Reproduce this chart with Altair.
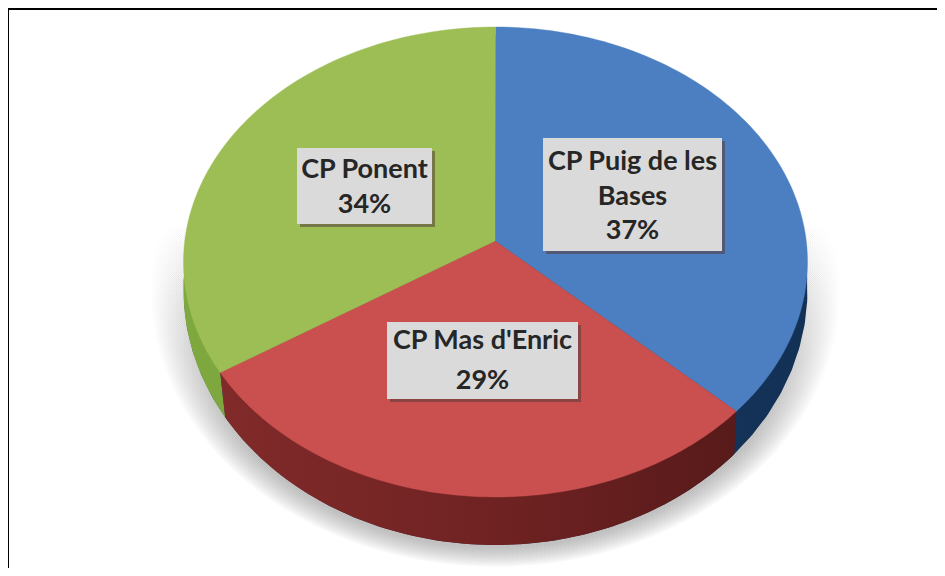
import math
import altair as alt

# ---- values ----
labels = ["CP Puig de les Bases", "CP Mas d'Enric", "CP Ponent"]
shares = [37, 29, 34]
label_lines = [["CP Puig de les", "Bases", "37%"], ["CP Mas d'Enric", "29%"], ["CP Ponent", "34%"]]
face_colors = ["#4b7fc1", "#c9504e", "#9cbe55"]
wall_stops = [
    ["#1f4674", "#173a63", "#133055"],
    ["#812a2a", "#6f2222", "#581a1a"],
    ["#7fa83f", "#7aa23c", "#6f9636"],
]

# ---- layout (page pixels, the chart origin sits at 8,8) ----
OX, OY = 8, 8
CX, FACE_CY, RX, FACE_RY = 495.5, 262.0, 312.0, 235.0
APEX = (495.0, 241.0)
WALL_CY, WALL_RY = 290.0, 255.0


def px(x, y):
    return [round(x - OX, 2), round(y - OY, 2)]


def ray_point(turn):
    """Where a ray from the apex meets the rim; turn is the running share in degrees from 12 o'clock."""
    t = math.radians(turn)
    dx, dy = math.sin(t), -math.cos(t)
    py = (APEX[1] - FACE_CY) / FACE_RY
    b = py * dy
    s = -b + math.sqrt(b * b - (py * py - 1))
    return CX + RX * s * dx, FACE_CY + FACE_RY * (py + s * dy)


def rim_angle(x, y, cy, ry):
    return math.atan2((x - CX) / RX, -(y - cy) / ry)


def arc(a0, a1, cy, ry, n=90):
    return [(CX + RX * math.sin(a0 + (a1 - a0) * i / n), cy - ry * math.cos(a0 + (a1 - a0) * i / n)) for i in range(n + 1)]


def feature(name, pts):
    ring = [px(*p) for p in pts]
    ring.append(ring[0])
    return {"type": "Feature", "geometry": {"type": "Polygon", "coordinates": [ring]}, "properties": {"name": name}}


# running boundaries taken from the shares
total = sum(shares)
bounds = [0.0]
for v in shares:
    bounds.append(bounds[-1] + 360.0 * v / total)

faces, walls = [], []
for i, name in enumerate(labels):
    p0, p1 = ray_point(bounds[i]), ray_point(bounds[i + 1])
    a0 = rim_angle(*p0, FACE_CY, FACE_RY)
    a1 = rim_angle(*p1, FACE_CY, FACE_RY)
    if a0 < 0:
        a0 += 2 * math.pi
    if a1 <= a0:
        a1 += 2 * math.pi
    faces.append(feature(name, [APEX] + arc(a0, a1, FACE_CY, FACE_RY)))
    # side wall: hangs under the rim, its seams drop straight down
    w0x = p0[0] - 2 if p0[0] > CX else p0[0] + 5
    w1x = p1[0] - 2 if p1[0] > CX else p1[0] + 5
    w0 = (w0x, WALL_CY + WALL_RY * math.sqrt(max(0, 1 - ((w0x - CX) / RX) ** 2)))
    w1 = (w1x, WALL_CY + WALL_RY * math.sqrt(max(0, 1 - ((w1x - CX) / RX) ** 2)))
    b0 = rim_angle(*w0, WALL_CY, WALL_RY)
    b1 = rim_angle(*w1, WALL_CY, WALL_RY)
    if b0 < 0:
        b0 += 2 * math.pi
    if b1 <= b0:
        b1 += 2 * math.pi
    if i == 0:  # blue starts at 12 o'clock: only its lower right shows
        walls.append(feature(name, [APEX] + arc(0.0, b1, WALL_CY, WALL_RY) + [p1]))
    elif i == 2:
        walls.append(feature(name, [APEX, p0] + arc(b0, 2 * math.pi, WALL_CY, WALL_RY)))
    else:
        walls.append(feature(name, [APEX, p0] + arc(b0, b1, WALL_CY, WALL_RY) + [p1]))

projection = dict(type="identity", scale=1, translate=[0, 0])

# soft shadow made of stacked ellipses
shadow_feats = []
for k in range(14):
    grow = 2 + k * 2.3
    pts = [(CX + (RX + grow) * math.sin(a), WALL_CY + 2 + (WALL_RY + grow * 0.62) * -math.cos(a))
           for a in [j * math.pi / 90 for j in range(180)]]
    shadow_feats.append(feature("shadow", pts))

shadow = alt.Chart(alt.Data(values=shadow_feats)).mark_geoshape(
    stroke=None,
    fill=alt.Gradient(
        gradient="linear", x1=0, y1=0, x2=0, y2=1,
        stops=[
            alt.GradientStop(color="rgba(120,120,120,0)", offset=0.36),
            alt.GradientStop(color="rgba(120,120,120,0.02)", offset=0.55),
            alt.GradientStop(color="rgba(120,120,120,0.042)", offset=0.8),
            alt.GradientStop(color="rgba(120,120,120,0.042)", offset=1),
        ],
    ),
).project(**projection)

layers = [shadow]
for w, st in zip([walls[0], walls[2], walls[1]], [wall_stops[0], wall_stops[2], wall_stops[1]]):
    layers.append(
        alt.Chart(alt.Data(values=[w])).mark_geoshape(
            stroke=None,
            fill=alt.Gradient(
                gradient="linear", x1=0, y1=0, x2=1, y2=0,
                stops=[alt.GradientStop(color=st[0], offset=0),
                       alt.GradientStop(color=st[1], offset=0.55),
                       alt.GradientStop(color=st[2], offset=1)],
            ),
        ).project(**projection)
    )

layers.append(
    alt.Chart(alt.Data(values=faces)).mark_geoshape(strokeWidth=0.4).encode(
        color=alt.Color("properties.name:N", scale=alt.Scale(domain=labels, range=face_colors), legend=None),
        stroke=alt.Stroke("properties.name:N", scale=alt.Scale(domain=labels, range=face_colors), legend=None),
    ).project(**projection)
)

# label boxes: left, right, top, bottom, then y of each text line
boxes = [
    (543, 722, 138, 251, [162, 197, 231]),
    (387, 578, 322, 399, [341, 381]),
    (297, 432, 148, 224, [170, 205]),
]
anchor = alt.Chart(alt.Data(values=[{"a": 0}]))
for (l, r, t, b, ys), lines in zip(boxes, label_lines):
    layers.append(anchor.mark_rect(fill="#5a3a3a", opacity=0.55).encode(
        x=alt.value(l - OX + 3), x2=alt.value(r - OX + 3), y=alt.value(t - OY + 3), y2=alt.value(b - OY + 3)))
    layers.append(anchor.mark_rect(fill="#dadada").encode(
        x=alt.value(l - OX), x2=alt.value(r - OX), y=alt.value(t - OY), y2=alt.value(b - OY)))
    for line, yy in zip(lines, ys):
        layers.append(anchor.mark_text(
            text=line, font="Lato", fontWeight="bold", fontSize=27, color="#262626",
            align="center", baseline="middle",
        ).encode(x=alt.value((l + r) / 2 - OX), y=alt.value(yy - OY)))

# frame: top and left only
layers.append(anchor.mark_rule(color="#000000", strokeWidth=2).encode(
    x=alt.value(0), x2=alt.value(929), y=alt.value(1)))
layers.append(anchor.mark_rule(color="#000000", strokeWidth=2).encode(
    x=alt.value(0), y=alt.value(0), y2=alt.value(560)))

chart = alt.layer(*layers).properties(
    width=929, height=560, padding=0, background="#ffffff",
    autosize=alt.AutoSizeParams(type="none"),
).configure_view(stroke=None)

chart.save("out.html", embed_options={"renderer": "svg", "actions": False})
